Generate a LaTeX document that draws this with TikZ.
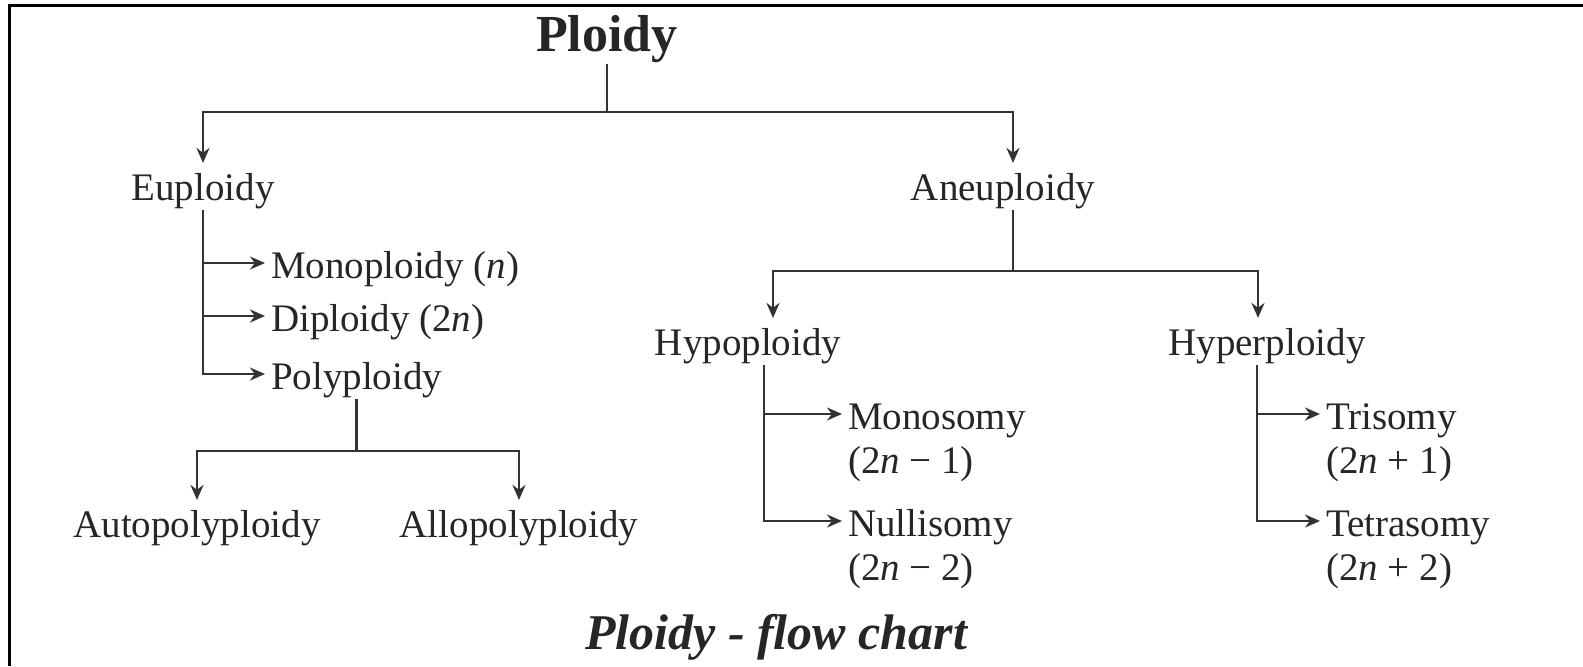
\documentclass[tikz,border=0pt]{standalone}
\usepackage{fontspec}
\setmainfont{Liberation Serif}
\usetikzlibrary{arrows.meta}

\begin{document}
\begin{tikzpicture}[
      x=0.5pt, y=-0.5pt,
      nodes={
        text=black!85, font=\fontsize{19.5}{22}\selectfont,
        inner xsep=3pt, inner ysep=1pt, outer sep=0pt
      },
      title/.style={font=\fontsize{26}{30}\selectfont\bfseries},
      side/.style={anchor=base west, align=left},
      down/.style={->, shorten >=4pt},
      color=black!80, line width=1.3pt, >={Stealth[length=7.5pt,width=6.5pt]}
      ]

      \useasboundingbox (0,0) rectangle (1583,666);
      \draw[black, line width=1.5pt] (9.5,666) -- (9.5,5) -- (1583,5);

      \node[title, anchor=base]  (ploidy) at (607,51)  {Ploidy};
      \node[anchor=base]         (eu)     at (203,200) {Euploidy};
      \node[anchor=base]         (an)     at (1003,200) {Aneuploidy};
      \node[side]                (mono)   at (265,278) {Monoploidy (\textit{n})};
      \node[side]                (di)     at (265,331) {Diploidy (2\textit{n})};
      \node[side]                (poly)   at (265,389) {Polyploidy};
      \node[anchor=base]         (auto)   at (197,537) {Autopolyploidy};
      \node[anchor=base]         (allo)   at (519,537) {Allopolyploidy};
      \node[anchor=base]         (hypo)   at (748,355) {Hypoploidy};
      \node[anchor=base]         (hyper)  at (1267,355) {Hyperploidy};
      % two-line labels sit on their last line
      \node[side]                (monos)  at (842,473) {Monosomy\\(2\textit{n} − 1)};
      \node[side]                (nulls)  at (842,580) {Nullisomy\\(2\textit{n} − 2)};
      \node[side]                (tris)   at (1320,473) {Trisomy\\(2\textit{n} + 1)};
      \node[side]                (tetras) at (1320,580) {Tetrasomy\\(2\textit{n} + 2)};
      \node[anchor=base, font=\fontsize{25}{30}\selectfont\bfseries\itshape]
                                 (caption) at (776,649) {Ploidy - flow chart};

      \coordinate (j1) at (607,112);
      \coordinate (j2) at (1013,271);
      \coordinate (j3) at (poly.south |- 0,451);

  % Connect the nodes
  \draw (ploidy.south) -- (j1);
  \draw[down] (j1) -| (eu.north);
  \draw[down] (j1) -| ([xshift=5pt]an.north);
  \draw[->] (eu.south) |- ([yshift=7.5pt]mono.base west);
  \draw[->] (eu.south) |- ([yshift=7.5pt]di.base west);
  \draw[->] (eu.south) |- ([yshift=7.5pt]poly.base west);
  \draw (poly.south) -- (j3);
  \draw[down] (j3) -| (auto.north);
  \draw[down] (j3) -| (allo.north);
  \draw ([xshift=5pt]an.south) -- (j2);
  \draw[down] (j2) -| ([xshift=12.5pt]hypo.north);
  \draw[down] (j2) -| ([xshift=-4.5pt]hyper.north);
  \draw[->] ([xshift=8pt]hypo.south) |- ([yshift=29.5pt]monos.base west);
  \draw[->] ([xshift=8pt]hypo.south) |- ([yshift=29.5pt]nulls.base west);
  \draw[->] ([xshift=-5pt]hyper.south) |- ([yshift=29.5pt]tris.base west);
  \draw[->] ([xshift=-5pt]hyper.south) |- ([yshift=29.5pt]tetras.base west);

\end{tikzpicture}
\end{document}
